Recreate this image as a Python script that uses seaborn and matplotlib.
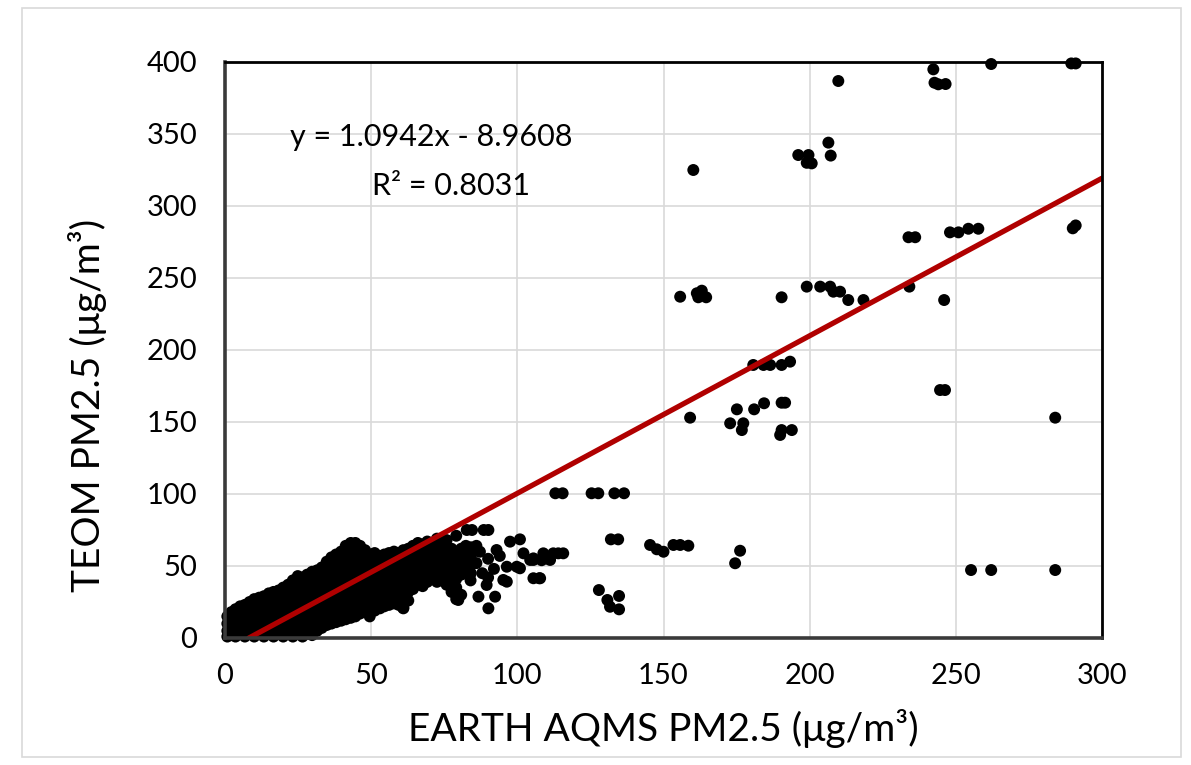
import numpy as np
import pandas as pd
import matplotlib
matplotlib.use("Agg")
import matplotlib.pyplot as plt
import matplotlib.patches as mpatches
import seaborn as sns

# ---------------- data ----------------
# dense low-concentration cluster: x value -> TEOM values
dense_x = [0.8, 2.2, 3.6, 5.2, 6.8, 8.4, 10.0, 11.7, 13.3, 15.0, 16.6, 18.3, 19.9,
           21.6, 23.2, 24.9, 26.5, 28.1, 29.8, 31.5, 33.1, 34.8, 36.4, 38.0, 39.7,
           41.3, 43.0, 44.6, 46.2, 47.9, 49.5, 51.2, 52.8, 54.5, 56.1, 57.8, 59.4,
           61.0, 62.7, 64.3, 66.0, 67.6, 69.2, 70.9, 72.5, 74.2, 75.8, 77.5, 79.1,
           80.8, 82.4, 84.1]
dense_y = [
    [1, 5, 10, 15], [2, 8, 13, 18], [1, 6, 11, 16, 20], [3, 9, 14, 19, 22],
    [1, 6, 12, 17, 23], [3, 8, 14, 20, 25], [1, 6, 11, 17, 22, 27],
    [3, 9, 15, 20, 26, 28], [1, 7, 12, 18, 24, 29], [3, 9, 14, 20, 26, 31],
    [1, 6, 12, 18, 24, 29, 32], [3, 9, 15, 21, 27, 33], [1, 7, 13, 19, 25, 31, 35],
    [3, 9, 15, 21, 27, 33, 37], [1, 7, 13, 19, 25, 31, 37, 40],
    [3, 9, 15, 21, 27, 33, 39, 43], [1, 7, 13, 19, 25, 31, 37, 42],
    [3, 9, 15, 21, 27, 33, 39, 44], [2, 8, 14, 20, 26, 32, 38, 44, 46],
    [5, 11, 17, 23, 29, 35, 41, 47], [7, 13, 19, 25, 31, 37, 43, 49],
    [9, 15, 21, 27, 33, 39, 45, 51, 53], [10, 16, 22, 28, 34, 40, 46, 52, 56],
    [11, 17, 23, 29, 35, 41, 47, 53, 58], [12, 18, 24, 30, 36, 42, 48, 54, 60],
    [13, 19, 25, 31, 37, 43, 49, 55, 61, 64], [14, 20, 26, 32, 38, 44, 50, 56, 62, 66],
    [15, 21, 27, 33, 39, 45, 51, 57, 63, 66], [17, 23, 29, 35, 41, 47, 53, 59, 64],
    [19, 25, 31, 37, 43, 49, 55, 61], [15, 22, 28, 34, 40, 46, 52, 58],
    [19, 25, 31, 37, 43, 49, 55, 59], [21, 27, 33, 39, 45, 51, 57],
    [22, 28, 34, 40, 46, 52, 58], [23, 29, 35, 41, 47, 53, 59],
    [24, 30, 36, 42, 48, 54, 60], [23, 29, 35, 41, 47, 53, 59],
    [21, 27, 33, 39, 45, 51, 57, 61], [26, 32, 38, 44, 50, 56, 62],
    [34, 40, 46, 52, 58, 64], [37, 43, 49, 55, 61, 66], [36, 42, 48, 54, 60, 65],
    [39, 45, 51, 57, 63, 67], [41, 47, 53, 59, 65], [39, 45, 51, 57, 63, 69],
    [40, 46, 52, 58, 64], [37, 43, 49, 55, 61, 68], [32, 38, 44, 50, 56, 62],
    [27, 35, 41, 47, 53, 59, 71], [30, 44, 50, 56, 62], [46, 52, 58, 64],
    [45, 51, 57, 63],
]

# scattered points in the 50-180 range
mid_x = [82.7, 84.5, 88.5, 90.1, 97.5, 100.9, 90.1, 86.7, 92.4, 89.5, 79.8, 61.0,
         53.0, 96.4, 108.9, 105.5, 87.2, 92.9, 102.1, 96.4, 99.8, 95.2, 104.4,
         110.0, 112.3, 108.3, 107.8, 105.5, 107.5, 111.2, 114.0, 115.7, 100.9,
         86.0, 88.0, 90.0, 92.0, 94.0, 86.0, 84.0, 90.0,
         113.0, 115.5, 125.4, 127.7, 133.2, 136.5, 132.0, 134.5,
         145.4, 147.7, 150.0, 153.4, 155.7, 158.5, 174.5, 176.2,
         127.9, 130.8, 131.7, 134.8, 134.8, 105.5]
mid_y = [75.0, 75.0, 75.0, 75.0, 66.9, 68.5, 20.6, 28.7, 28.7, 36.8, 26.4, 20.6,
         20.6, 39.1, 58.8, 55.3, 59.9, 61.1, 58.8, 49.5, 49.5, 40.3, 54.2,
         55.3, 58.8, 54.0, 41.5, 41.5, 41.5, 54.2, 58.8, 58.8, 48.4,
         52.0, 45.0, 55.0, 48.0, 57.0, 64.0, 40.0, 42.0,
         100.5, 100.5, 100.5, 100.5, 100.5, 100.5, 68.5, 68.5,
         64.6, 61.6, 59.9, 64.6, 64.6, 64.1, 51.9, 60.6,
         33.3, 26.4, 21.7, 29.2, 19.9, 54.2]

# high-concentration points
high_x = [209.8, 242.3, 242.7, 244.0, 246.5, 262.1, 289.5, 291.0, 160.2, 196.1,
          199.6, 199.0, 200.7, 206.4, 207.2, 290.0, 291.0, 233.8, 236.1, 248.0,
          250.9, 254.3, 257.7, 155.7, 161.4, 163.1, 161.9, 164.6, 190.4, 199.0,
          203.6, 207.0, 208.1, 210.4, 213.2, 218.4, 234.1, 246.0, 180.7, 184.2,
          186.5, 190.4, 193.3, 244.6, 246.3, 159.1, 175.1, 181.0, 184.4, 190.4,
          191.6, 172.8, 177.3, 176.8, 189.9, 190.4, 193.9, 284.0, 255.2, 262.1,
          284.0]
high_y = [386.8, 394.9, 385.6, 384.5, 384.7, 398.6, 399.0, 399.0, 325.0, 335.4,
          335.4, 330.0, 329.6, 344.0, 335.0, 284.5, 286.5, 278.3, 278.3, 281.7,
          281.7, 284.2, 284.2, 237.0, 239.4, 241.2, 236.6, 236.6, 236.6, 244.0,
          244.0, 244.0, 240.5, 240.5, 234.7, 234.7, 244.0, 234.7, 189.6, 189.6,
          189.6, 189.6, 191.9, 172.2, 172.2, 153.0, 158.8, 158.8, 163.0, 163.4,
          163.4, 149.1, 149.1, 144.4, 141.0, 144.4, 144.4, 153.0, 47.2, 47.2,
          47.2]

# trendline as reported on the chart
slope = 1.0942
intercept = -8.9608
r_squared = 0.8031
trend_x = [-intercept / slope, 300.0]

x_ticks = [0, 50, 100, 150, 200, 250, 300]
y_ticks = [0, 50, 100, 150, 200, 250, 300, 350, 400]

x_label = "EARTH AQMS PM2.5 (\u03bcg/m\u00b3)"
y_label = "TEOM PM2.5 (\u03bcg/m\u00b3)"

# ---------------- build frames ----------------
xs, ys = [], []
for xv, col in zip(dense_x, dense_y):
    for yv in col:
        xs.append(xv)
        ys.append(yv)
xs += mid_x + high_x
ys += mid_y + high_y
df = pd.DataFrame({"earth": xs, "teom": ys})
trend_df = pd.DataFrame({"earth": trend_x,
                         "teom": [slope * v + intercept for v in trend_x]})

# ---------------- style ----------------
sns.set_theme(style="white")
plt.rcParams["font.family"] = ["Lato", "DejaVu Sans"]

W, H = 1191, 765
fig = plt.figure(figsize=(W / 100, H / 100), dpi=100)
ax = fig.add_axes([225 / W, 1 - 638 / H, (1102 - 225) / W, (638 - 62) / H])

sns.scatterplot(data=df, x="earth", y="teom", ax=ax, color="black",
                s=74, edgecolor="none", linewidth=0, clip_on=False, zorder=3)
sns.lineplot(data=trend_df, x="earth", y="teom", ax=ax, color="#b00000",
             linewidth=3.8, zorder=4)

ax.set_xlim(0, 300)
ax.set_ylim(0, 400)
ax.set_xticks(x_ticks)
ax.set_yticks(y_ticks)
ax.set_xticklabels([str(t) for t in x_ticks])
ax.set_yticklabels([str(t) for t in y_ticks])
ax.tick_params(axis="both", length=0, labelsize=21, colors="black")
ax.tick_params(axis="y", pad=20)
ax.tick_params(axis="x", pad=18)

ax.grid(True, color="#d9d9d9", linewidth=1.2, zorder=0)
ax.set_axisbelow(True)
for side in ["top", "right"]:
    ax.spines[side].set_color("black")
    ax.spines[side].set_linewidth(2)
for side in ["left", "bottom"]:
    ax.spines[side].set_color("#3a3a3a")
    ax.spines[side].set_linewidth(2.6)
for sp in ax.spines.values():
    sp.set_zorder(5)

ax.set_xlabel(x_label, fontsize=28, color="black")
ax.set_ylabel(y_label, fontsize=28, color="black")
ax.xaxis.set_label_coords(0.5, (638 - 709) / 576)
ax.yaxis.set_label_coords((107 - 225) / 877, (638 - 405) / 576)

ax.text(70.5, 348, f"y = {slope:.4f}x - {abs(intercept):.4f}", fontsize=22,
        ha="center", va="center", color="black")
ax.text(77.3, 314, f"R\u00b2 = {r_squared:.4f}", fontsize=22,
        ha="center", va="center", color="black")

# outer chart border
fig.patches.append(mpatches.Rectangle((22 / W, 1 - 757 / H), (1181 - 22) / W,
                                      (757 - 8) / H, transform=fig.transFigure,
                                      fill=False, edgecolor="#d9d9d9",
                                      linewidth=1.2))

fig.savefig("out.png", dpi=100)
